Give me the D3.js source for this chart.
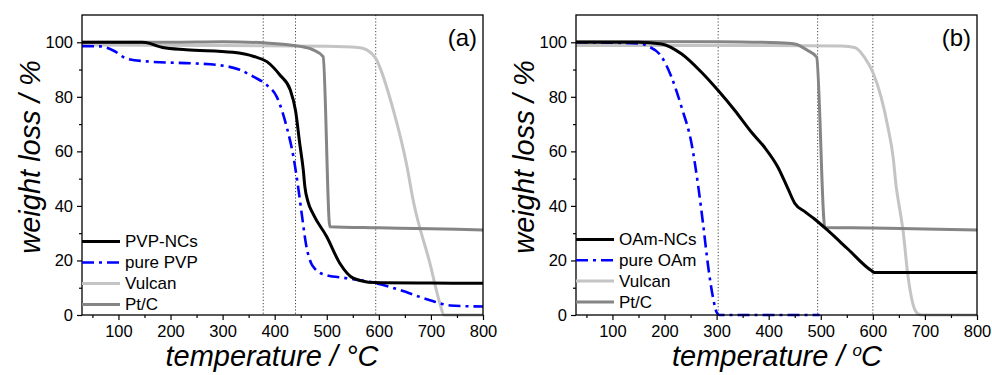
<!DOCTYPE html>
<html>
<head>
<meta charset="utf-8">
<script src="https://cdn.jsdelivr.net/npm/d3@7"></script>
<style>
  body { margin: 0; background: #fff; }
  svg { display: block; font-family: "Liberation Sans", Arial, sans-serif; }
  .tick text { fill: #000; }
</style>
</head>
<body>
<svg id="chart" width="992" height="375"></svg>
<script>
// temperature axis ticks (°C) and weight ticks (%)
const tempTicks = [100, 200, 300, 400, 500, 600, 700, 800];
const tempMinor = [50, 150, 250, 350, 450, 550, 650, 750];
const weightTicks = [0, 20, 40, 60, 80, 100];
const weightMinor = [10, 30, 50, 70, 90];

// panel (a)
const pvpNCs = [[30,100],[145,100],[160,99.6],[172,98.8],[185,98.1],[230,97.3],[320,96.3],[360,94.8],[385,92.9],[410,88],[430,82.5],[440,75],[448,63],[455,53],[458,47],[464,41.5],[474,37],[500,28.7],[525,19],[551,13.5],[590,11.9],[700,11.7],[800,11.6]];
const purePVP = [[30,98.6],[65,98.5],[90,97],[116,94],[160,92.9],[250,92.2],[290,91.7],[333,89.9],[359,87.4],[385,84.3],[404,80],[423,69],[436,58],[445,47],[452,37],[461,25],[470,19],[477,17],[497,14.7],[538,13.5],[596,11.6],[640,9.2],[692,5.8],[737,3.5],[770,3.2],[800,3.1]];
const vulcanA = [[30,99],[300,98.8],[500,98.5],[560,98.1],[577,97.2],[594,94.1],[628,75],[654,54.5],[666,42],[698,19],[717,4.4],[725,0],[800,0]];
const ptcA = [[30,100],[200,100],[300,100.2],[380,99.8],[449,98.5],[474,97.2],[493,94.7],[506,32.4],[600,32],[700,31.6],[800,31.2]];
const markersA = [378, 440, 594];

// panel (b)
const oamNCs = [[30,100],[150,100],[194,99.4],[233,95.7],[271,89],[303,82.3],[335,75],[367,67],[392,61.5],[418,54.1],[437,46.3],[450,41],[470,37.8],[488,35.2],[514,30.9],[552,24.2],[597,16.3],[603,15.6],[700,15.6],[800,15.6]];
const pureOAm = [[30,100],[150,99.6],[169,98.5],[194,94.8],[213,87.4],[233,76],[252,62.7],[265,46.8],[274,33.4],[284,17.5],[293,6.5],[300,1],[305,0],[498,0]];
const vulcanB = [[30,98.8],[400,98.8],[540,98.6],[565,98.1],[584,94.5],[600,89],[616,79.8],[629,68.8],[639,57.8],[645,46.8],[648,43],[658,30.9],[667,15],[677,4],[687,0.4],[695,0],[800,0]];
const ptcB = [[30,100.3],[300,100.2],[420,99.8],[450,99.4],[475,97],[492,94.6],[508,32.1],[600,31.9],[700,31.5],[800,31.2]];
const markersB = [303, 494, 600];

const styles = {
  ncs:    { stroke: "#000", width: 3, dash: null },
  pure:   { stroke: "#0000ff", width: 2.6, dash: "12,5,3,5" },
  vulcan: { stroke: "#c4c4c4", width: 3, dash: null },
  ptc:    { stroke: "#858585", width: 3, dash: null }
};

const panels = [
  { left: 82, top: 15, label: "(a)", deg: "normal", xTitleX: 272, legendTop: 241.5, legendGap: 21,
    markers: markersA,
    series: [
      { name: "PVP-NCs", data: pvpNCs, s: styles.ncs },
      { name: "pure PVP", data: purePVP, s: styles.pure },
      { name: "Vulcan", data: vulcanA, s: styles.vulcan },
      { name: "Pt/C", data: ptcA, s: styles.ptc }
    ] },
  { left: 576, top: 15, label: "(b)", deg: "small", xTitleX: 777, legendTop: 239.5, legendGap: 20.8,
    markers: markersB,
    series: [
      { name: "OAm-NCs", data: oamNCs, s: styles.ncs },
      { name: "pure OAm", data: pureOAm, s: styles.pure },
      { name: "Vulcan", data: vulcanB, s: styles.vulcan },
      { name: "Pt/C", data: ptcB, s: styles.ptc }
    ] }
];

const W = 401, H = 300;
const svg = d3.select("#chart");

panels.forEach(p => {
  const x = d3.scaleLinear().domain([30, 800]).range([0, W]);
  const y = d3.scaleLinear().domain([0, 110]).range([H, 0]);
  const g = svg.append("g").attr("transform", `translate(${p.left},${p.top})`);

  // dotted markers
  g.selectAll(".marker").data(p.markers).join("line")
    .attr("x1", d => x(d)).attr("x2", d => x(d))
    .attr("y1", 0).attr("y2", H)
    .attr("stroke", "#444").attr("stroke-width", 1).attr("stroke-dasharray", "1.2,2");

  const line = d3.line().x(d => x(d[0])).y(d => y(d[1])).curve(d3.curveMonotoneX);

  // back to front: Vulcan, Pt/C, pure, NCs
  [2, 3, 1, 0].forEach(i => {
    const sr = p.series[i];
    g.append("path").datum(sr.data)
      .attr("d", line)
      .attr("fill", "none")
      .attr("stroke", sr.s.stroke)
      .attr("stroke-width", sr.s.width)
      .attr("stroke-dasharray", sr.s.dash)
      .attr("stroke-linejoin", "round");
  });

  // frame
  g.append("rect").attr("width", W).attr("height", H)
    .attr("fill", "none").attr("stroke", "#000").attr("stroke-width", 1.3);

  // axes
  g.append("g").attr("transform", `translate(0,${H})`)
    .call(d3.axisBottom(x).tickValues(tempTicks).tickSize(5).tickSizeOuter(0).tickPadding(5));
  g.append("g").attr("transform", `translate(0,${H})`)
    .call(d3.axisBottom(x).tickValues(tempMinor).tickSize(3).tickFormat("").tickSizeOuter(0));
  g.append("g")
    .call(d3.axisLeft(y).tickValues(weightTicks).tickSize(5).tickSizeOuter(0).tickPadding(4));
  g.append("g")
    .call(d3.axisLeft(y).tickValues(weightMinor).tickSize(3).tickFormat("").tickSizeOuter(0));
  g.selectAll(".domain").remove();
  g.selectAll(".tick line").attr("stroke", "#000").attr("stroke-width", 1.2);
  g.selectAll(".tick text").style("font-size", "16.5px").attr("font-family", null);

  // legend
  p.series.forEach((sr, i) => {
    const ly = p.legendTop - p.top + i * p.legendGap;
    g.append("line").attr("x1", 0).attr("x2", 38).attr("y1", ly).attr("y2", ly)
      .attr("stroke", sr.s.stroke).attr("stroke-width", sr.s.width)
      .attr("stroke-dasharray", sr.s.dash);
    g.append("text").attr("x", 43).attr("y", ly).attr("dy", "0.35em")
      .style("font-size", "17px").text(sr.name);
  });

  // panel label
  g.append("text").attr("x", W - 6).attr("y", 46 - p.top)
    .attr("text-anchor", "end").style("font-size", "24px").text(p.label);

  // y title
  svg.append("text")
    .attr("transform", `translate(${p.left - 42},157) rotate(-90)`)
    .attr("text-anchor", "middle")
    .style("font-size", "29px").style("font-style", "italic")
    .text("weight loss / %");

  // x title
  const xt = svg.append("text").attr("x", p.xTitleX).attr("y", 366)
    .attr("text-anchor", "middle")
    .style("font-size", "29px").style("font-style", "italic");
  if (p.deg === "normal") {
    xt.text("temperature / °C");
  } else {
    xt.append("tspan").text("temperature / ");
    xt.append("tspan").style("font-size", "17px").attr("dy", -10).text("o");
    xt.append("tspan").attr("dy", 10).attr("dx", -1).text("C");
  }
});
</script>
</body>
</html>
